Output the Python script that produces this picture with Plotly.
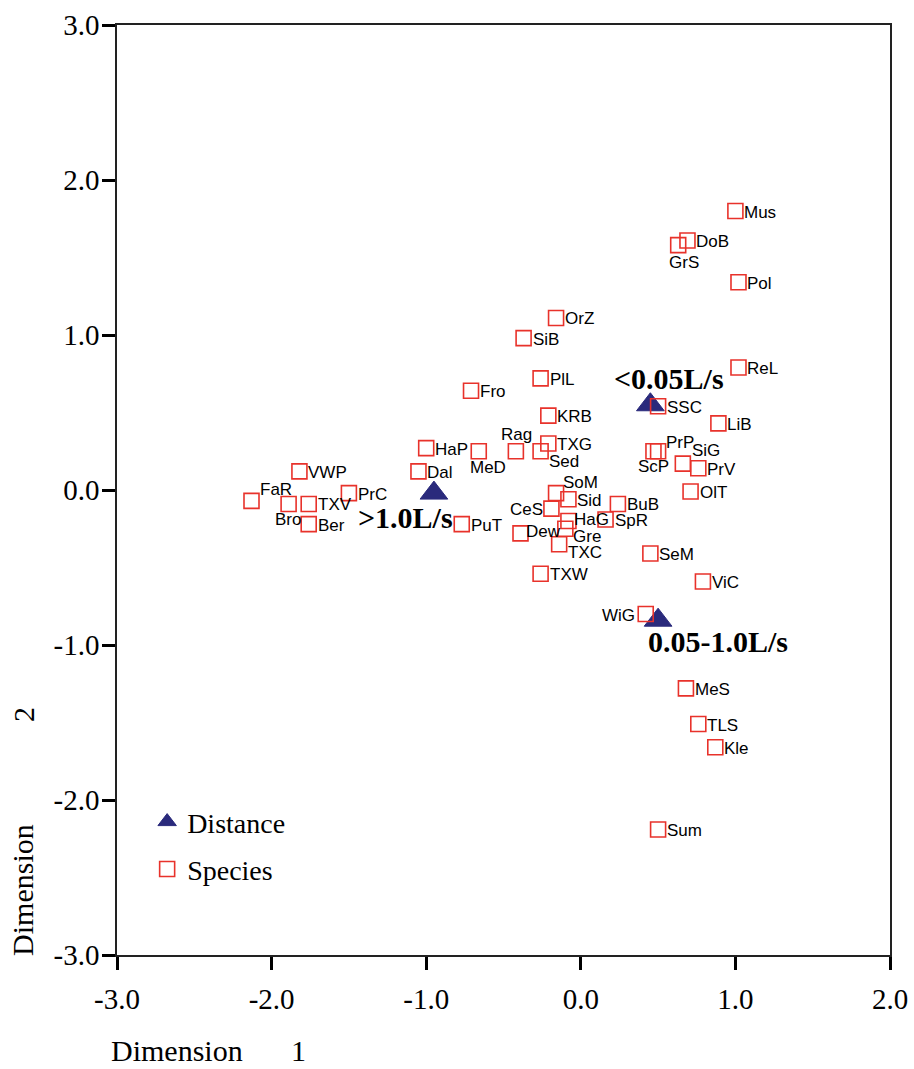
import plotly.graph_objects as go

# MDS coordinates of the species (dimension 1, dimension 2)
species = ["Mus", "DoB", "GrS", "Pol", "ReL", "SSC", "LiB", "PrP", "ScP", "SiG",
           "PrV", "OlT", "BuB", "SpR", "SeM", "ViC", "WiG", "MeS", "TLS", "Kle",
           "Sum", "OrZ", "SiB", "PlL", "Fro", "KRB", "HaP", "Dal", "MeD", "Rag",
           "Sed", "TXG", "SoM", "Sid", "CeS", "HaG", "Gre", "Dew", "TXC", "TXW",
           "PuT", "PrC", "VWP", "FaR", "Bro", "TXV", "Ber"]
species_dim1 = [1.00, 0.69, 0.63, 1.02, 1.02, 0.50, 0.89, 0.50, 0.47, 0.66,
                0.76, 0.71, 0.24, 0.16, 0.45, 0.79, 0.42, 0.68, 0.76, 0.87,
                0.50, -0.16, -0.37, -0.26, -0.71, -0.21, -1.00, -1.05, -0.66, -0.42,
                -0.26, -0.21, -0.16, -0.08, -0.19, -0.08, -0.10, -0.39, -0.14, -0.26,
                -0.77, -1.50, -1.82, -2.13, -1.89, -1.76, -1.76]
species_dim2 = [1.80, 1.61, 1.58, 1.34, 0.79, 0.54, 0.43, 0.25, 0.25, 0.17,
                0.14, -0.01, -0.09, -0.19, -0.41, -0.59, -0.80, -1.28, -1.51, -1.66,
                -2.19, 1.11, 0.98, 0.72, 0.64, 0.48, 0.27, 0.12, 0.25, 0.25,
                0.25, 0.30, -0.02, -0.06, -0.12, -0.20, -0.25, -0.28, -0.35, -0.54,
                -0.22, -0.02, 0.12, -0.07, -0.09, -0.09, -0.22]

# Flow-distance groups
distance = ["<0.05L/s", ">1.0L/s", "0.05-1.0L/s"]
distance_dim1 = [0.45, -0.95, 0.50]
distance_dim2 = [0.55, -0.02, -0.84]

# Axis ticks
x_tick_values = [-3, -2, -1, 0, 1, 2]
x_tick_labels = ["-3.0", "-2.0", "-1.0", "0.0", "1.0", "2.0"]
y_tick_values = [-3, -2, -1, 0, 1, 2, 3]
y_tick_labels = ["-3.0", "-2.0", "-1.0", "0.0", "1.0", "2.0", "3.0"]

SERIF = "Liberation Serif, Times New Roman, serif"
SANS = "Liberation Sans, Arial, Helvetica, sans-serif"
RED = "#E8322B"
NAVY = "#2A2A7C"

# Label placement around each marker: (xanchor, dx px, dy px downwards)
DEFAULT_PLACE = ("left", 9, 1)
label_place = {
    "PrP": ("left", 8, -9), "SiG": ("left", 9, -13), "FaR": ("left", 8, -11),
    "SoM": ("left", 7, -11), "Sed": ("left", 8, 10), "Gre": ("left", 8, 8),
    "TXC": ("left", 9, 8), "HaG": ("left", 6, -2), "Dew": ("left", 5, -2),
    "GrS": ("center", 6, 17), "ScP": ("center", 0, 15), "Bro": ("center", -1, 16),
    "MeD": ("center", 9, 16), "Rag": ("center", 1, -17),
    "CeS": ("right", -8, 1), "WiG": ("right", -11, 1),
}
distance_place = {
    "<0.05L/s": (19, -26), ">1.0L/s": (-28, 24), "0.05-1.0L/s": (60, 21),
}

fig = go.Figure()
fig.add_trace(go.Scatter(
    x=distance_dim1, y=distance_dim2, mode="markers", name="Distance",
    marker=dict(symbol="triangle-up", size=24, color=NAVY,
                line=dict(color=NAVY, width=1)),
    legendgroup="d", hoverinfo="skip",
))
fig.add_trace(go.Scatter(
    x=species_dim1, y=species_dim2, mode="markers", name="Species",
    marker=dict(symbol="square-open", size=15, color=RED,
                line=dict(color=RED, width=1.6)),
    legendgroup="s", hoverinfo="skip",
))

annotations = []
for name, xv, yv in zip(species, species_dim1, species_dim2):
    anchor, dx, dy = label_place.get(name, DEFAULT_PLACE)
    annotations.append(dict(
        x=xv, y=yv, xref="x", yref="y", text=name, showarrow=False,
        xanchor=anchor, yanchor="middle", xshift=dx, yshift=-dy,
        borderpad=0, borderwidth=0,
        font=dict(family=SANS, size=17, color="black"),
    ))
for name, xv, yv in zip(distance, distance_dim1, distance_dim2):
    dx, dy = distance_place[name]
    annotations.append(dict(
        x=xv, y=yv, xref="x", yref="y", text="<b>%s</b>" % name, showarrow=False,
        xanchor="center", yanchor="middle", xshift=dx, yshift=-dy,
        borderpad=0, borderwidth=0,
        font=dict(family=SERIF, size=30, color="black"),
    ))

# Axis titles
title_font = dict(family=SERIF, size=30, color="black")
annotations += [
    dict(x=-0.0075, y=-0.1032, xref="paper", yref="paper", text="Dimension",
         showarrow=False, xanchor="left", yanchor="middle", font=title_font,
         borderpad=0, borderwidth=0),
    dict(x=0.2354, y=-0.1032, xref="paper", yref="paper", text="1",
         showarrow=False, xanchor="center", yanchor="middle", font=title_font,
         borderpad=0, borderwidth=0),
    dict(x=-0.1216, y=0.070, xref="paper", yref="paper", text="Dimension",
         textangle=-90, showarrow=False, xanchor="center", yanchor="middle",
         font=title_font),
    dict(x=-0.1216, y=0.258, xref="paper", yref="paper", text="2",
         textangle=-90, showarrow=False, xanchor="center", yanchor="middle",
         font=title_font),
]

axis_common = dict(
    showgrid=False, zeroline=False, showline=True, mirror=True,
    linecolor="#222222", linewidth=1.5, ticks="outside", tickwidth=3,
    tickcolor="black", ticklen=13, automargin=False,
    tickfont=dict(family=SERIF, size=29, color="black"),
)
fig.update_xaxes(range=[-3, 2], tickvals=x_tick_values, ticktext=x_tick_labels,
                 ticklabelstandoff=4, **axis_common)
fig.update_yaxes(range=[-3, 3], tickvals=y_tick_values, ticktext=y_tick_labels,
                 ticklabelstandoff=-3, **axis_common)

fig.update_layout(
    width=914, height=1069,
    margin=dict(l=117, r=24, t=25, b=114, autoexpand=False),
    paper_bgcolor="white", plot_bgcolor="white",
    annotations=annotations,
    showlegend=True,
    legend=dict(x=0.039, y=0.17, xanchor="left", yanchor="top",
                font=dict(family=SERIF, size=28, color="black"),
                bgcolor="rgba(0,0,0,0)", traceorder="grouped",
                tracegroupgap=8, itemsizing="trace"),
)

fig.write_html("out.html")
